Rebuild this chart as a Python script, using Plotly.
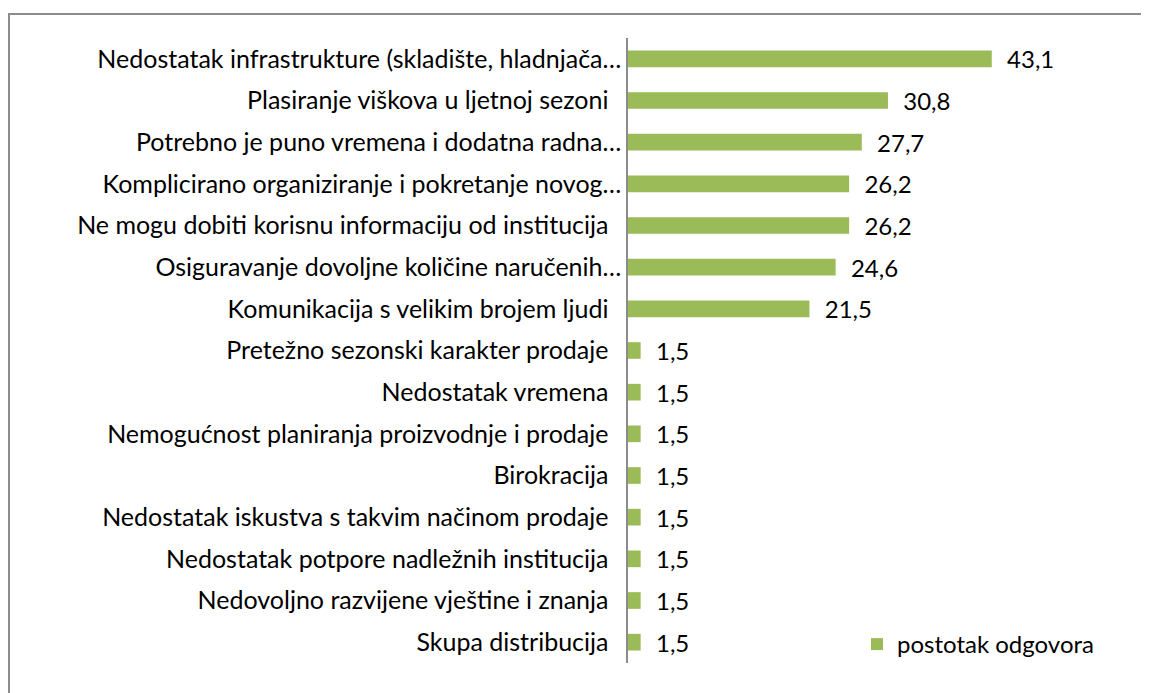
import plotly.graph_objects as go

categories = [
    "Nedostatak infrastrukture (skladište, hladnjača…",
    "Plasiranje viškova u ljetnoj sezoni",
    "Potrebno je puno vremena i dodatna radna…",
    "Komplicirano organiziranje i pokretanje novog…",
    "Ne mogu dobiti korisnu informaciju od institucija",
    "Osiguravanje dovoljne količine naručenih…",
    "Komunikacija s velikim brojem ljudi",
    "Pretežno sezonski karakter prodaje",
    "Nedostatak vremena",
    "Nemogućnost planiranja proizvodnje i prodaje",
    "Birokracija",
    "Nedostatak iskustva s takvim načinom prodaje",
    "Nedostatak potpore nadležnih institucija",
    "Nedovoljno razvijene vještine i znanja",
    "Skupa distribucija",
]
values = [43.1, 30.8, 27.7, 26.2, 26.2, 24.6, 21.5, 1.5, 1.5, 1.5, 1.5, 1.5, 1.5, 1.5, 1.5]
series_name = "postotak odgovora"

FONT = "Lato"
GREEN = "#9bbb59"
NB = "\u00a0"

# tick text: truncated labels sit flush, others keep a trailing gap
ticktext = [c if c.endswith("…") else c + NB * 2 for c in categories]

fig = go.Figure()
fig.add_trace(go.Bar(
    x=values, y=categories, orientation="h",
    name=series_name,
    marker=dict(color=GREEN, line=dict(width=0)),
    width=0.4,
    texttemplate=NB * 2 + "%{x:.1f}", textposition="outside",
    constraintext="none",
    textfont=dict(family=FONT, size=24, color="#000000"),
    cliponaxis=False,
    showlegend=True,
))

# figure coords = page coords - 8 (body margin)
W, H = 1141, 685
L, R, T, B = 620, 99, 30, 30
pw = W - L - R
ph = H - T - B

def px_x(px):
    return (px - L) / pw

def px_y(py):
    return (H - B - py) / ph

fig.update_layout(
    width=W, height=H,
    margin=dict(l=L, r=R, t=T, b=B, pad=0),
    paper_bgcolor="white", plot_bgcolor="white",
    separators=",.",
    font=dict(family=FONT, size=25, color="#000000"),
    bargap=0.6,
    xaxis=dict(range=[0, 50], visible=False, showgrid=False, zeroline=False),
    yaxis=dict(autorange="reversed", showline=True, linecolor="#8c8c8c", linewidth=1.5,
               ticks="", showgrid=False, ticklabelstandoff=0,
               tickmode="array", tickvals=categories, ticktext=ticktext,
               tickfont=dict(family=FONT, size=25, color="#000000")),
    legend=dict(x=px_x(849), y=px_y(614), xanchor="left", yanchor="top",
                font=dict(family=FONT, size=24, color="#000000"),
                bgcolor="rgba(0,0,0,0)", itemwidth=30),
    shapes=[dict(type="rect", xref="paper", yref="paper",
                 x0=px_x(1), x1=px_x(1170), y0=px_y(720), y1=px_y(6),
                 line=dict(color="#8c8c8c", width=2), fillcolor="rgba(0,0,0,0)", layer="below")],
)

fig.write_html("out.html")
